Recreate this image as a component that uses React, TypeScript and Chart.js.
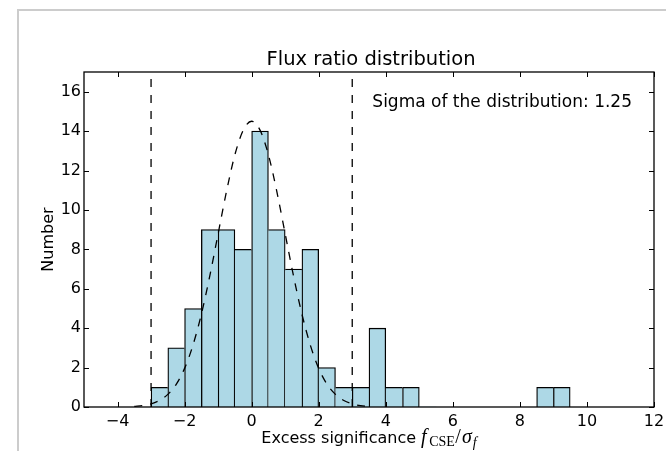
import React, { useEffect, useRef } from "react";
import { Chart, registerables } from "chart.js";

Chart.register(...registerables);

// Histogram bins (width 0.5), centres and counts
const binCenters = [
  -2.75, -2.25, -1.75, -1.25, -0.75, -0.25, 0.25, 0.75, 1.25, 1.75, 2.25, 2.75,
  3.25, 3.75, 4.25, 4.75, 5.25, 5.75, 6.25, 6.75, 7.25, 7.75, 8.25, 8.75, 9.25,
];
const counts = [1, 3, 5, 9, 9, 8, 14, 9, 7, 8, 2, 1, 1, 4, 1, 1, 0, 0, 0, 0, 0, 0, 0, 1, 1];

// Dashed fit curve
const fitX = [
  -3.5, -3.25, -3, -2.75, -2.5, -2.25, -2, -1.75, -1.5, -1.25, -1, -0.75, -0.5, -0.25, 0,
  0.25, 0.5, 0.75, 1, 1.25, 1.5, 1.75, 2, 2.25, 2.5, 2.75, 3, 3.25, 3.5,
];
const fitY = [
  0.03, 0.07, 0.16, 0.33, 0.64, 1.15, 1.96, 3.14, 4.71, 6.64, 8.79, 10.94, 12.8, 14.05, 14.5,
  14.05, 12.8, 10.94, 8.79, 6.64, 4.71, 3.14, 1.96, 1.15, 0.64, 0.33, 0.16, 0.07, 0.03,
];

// Vertical dashed cut lines
const cutLines = [-3, 3];

const xTicks = [-4, -2, 0, 2, 4, 6, 8, 10, 12];
const yTicks = [0, 2, 4, 6, 8, 10, 12, 14, 16];
const xRange = [-5, 12];
const yRange = [0, 17];

const titleText = "Flux ratio distribution";
const sigmaText = "Sigma of the distribution: 1.25";
const yLabel = "Number";
const xLabelPlain = "Excess significance ";

const FONT = '"DejaVu Sans", sans-serif';
const MATH = '"Liberation Serif", "DejaVu Serif", serif';
const EDGE = 1.3;

const decor = {
  id: "decor",
  beforeDraw(chart: any) {
    const ctx = chart.ctx;
    ctx.save();
    ctx.fillStyle = "#ffffff";
    ctx.fillRect(0, 0, chart.width, chart.height);
    ctx.fillStyle = "#cccccc";
    ctx.fillRect(17, 9, chart.width - 17, 2);
    ctx.fillRect(17, 9, 2, chart.height - 9);
    ctx.restore();
  },
  afterDraw(chart: any) {
    const { ctx, chartArea: a, scales } = chart;
    ctx.save();
    ctx.strokeStyle = "#000";
    ctx.lineWidth = EDGE;
    ctx.strokeRect(a.left, a.top, a.right - a.left, a.bottom - a.top);

    ctx.lineWidth = 1;
    ctx.beginPath();
    for (const v of xTicks) {
      const px = Math.round(scales.x.getPixelForValue(v)) + 0.5;
      ctx.moveTo(px, a.bottom);
      ctx.lineTo(px, a.bottom - 5);
      ctx.moveTo(px, a.top);
      ctx.lineTo(px, a.top + 5);
    }
    for (const v of yTicks) {
      const py = Math.round(scales.y.getPixelForValue(v)) + 0.5;
      ctx.moveTo(a.left, py);
      ctx.lineTo(a.left + 5, py);
      ctx.moveTo(a.right, py);
      ctx.lineTo(a.right - 5, py);
    }
    ctx.stroke();

    ctx.fillStyle = "#000";
    ctx.textBaseline = "alphabetic";

    // title
    ctx.font = `19.5px ${FONT}`;
    ctx.textAlign = "center";
    ctx.fillText(titleText, (a.left + a.right) / 2 + 2, 65);

    // annotation
    ctx.font = `17px ${FONT}`;
    ctx.textAlign = "right";
    ctx.fillText(sigmaText, a.right - 22, 106.5);

    // y label
    ctx.save();
    ctx.translate(53, (a.top + a.bottom) / 2);
    ctx.rotate(-Math.PI / 2);
    ctx.font = `16px ${FONT}`;
    ctx.textAlign = "center";
    ctx.fillText(yLabel, 0, 0);
    ctx.restore();

    // x label with math part
    const parts = [
      { t: xLabelPlain, f: `16px ${FONT}`, dy: 0, sp: 0 },
      { t: "f", f: `italic 20px ${MATH}`, dy: 0, sp: 2.5 },
      { t: "CSE", f: `14px ${MATH}`, dy: 3, sp: 0.5 },
      { t: "/", f: `20px ${MATH}`, dy: 0, sp: 1 },
      { t: "σ", f: `italic 20px ${MATH}`, dy: 0, sp: 1 },
      { t: "f", f: `italic 14px ${MATH}`, dy: 4, sp: 0 },
    ];
    let total = 0;
    const widths = parts.map((p) => {
      ctx.font = p.f;
      const w = ctx.measureText(p.t).width + p.sp;
      total += w;
      return w;
    });
    let x = (a.left + a.right) / 2 - total / 2;
    ctx.textAlign = "left";
    parts.forEach((p, i) => {
      ctx.font = p.f;
      ctx.fillText(p.t, x, 443 + p.dy);
      x += widths[i];
    });
    ctx.restore();
  },
};

export default function App() {
  const ref = useRef<HTMLCanvasElement | null>(null);

  useEffect(() => {
    if (!ref.current) return;
    const dashed = {
      borderColor: "#000",
      borderWidth: EDGE,
      borderDash: [8, 8],
      pointRadius: 0,
      fill: false,
    };
    const chart = new Chart(ref.current, {
      type: "bar",
      data: {
        datasets: [
          {
            type: "line",
            ...dashed,
            data: fitX.map((x, i) => ({ x, y: fitY[i] })),
            cubicInterpolationMode: "monotone",
            order: 1,
          },
          ...cutLines.map((c) => ({
            type: "line",
            ...dashed,
            data: [
              { x: c, y: yRange[0] },
              { x: c, y: yRange[1] },
            ],
            order: 1,
          })),
          {
            type: "bar",
            data: binCenters.map((x, i) => ({ x, y: counts[i] })),
            backgroundColor: "#add8e6",
            borderColor: "#000",
            borderWidth: (c: any) => {
              const i = c.dataIndex;
              if (i === undefined) return EDGE;
              const cur = counts[i];
              const prev = i > 0 ? counts[i - 1] : 0;
              const next = i < counts.length - 1 ? counts[i + 1] : 0;
              return {
                top: EDGE,
                bottom: 0,
                left: prev <= cur ? EDGE : 0,
                right: next < cur ? EDGE : 0,
              };
            },
            barPercentage: 1,
            categoryPercentage: 1,
            order: 2,
          },
        ] as any,
      },
      options: {
        animation: false,
        responsive: false,
        devicePixelRatio: 1,
        layout: { padding: { top: 72, right: 12, left: 0, bottom: 0 } },
        plugins: { legend: { display: false }, tooltip: { enabled: false }, title: { display: false } },
        scales: {
          x: {
            type: "linear",
            min: xRange[0],
            max: xRange[1],
            offset: false,
            grid: { display: false, drawTicks: false },
            border: { display: false },
            ticks: {
              color: "#000",
              font: { family: FONT, size: 16 },
              padding: 5,
              autoSkip: false,
              maxRotation: 0,
              callback: (v: any) => (v < 0 ? "\u2212" + Math.abs(v) : String(v)),
            },
            afterBuildTicks: (s: any) => {
              s.ticks = xTicks.map((v) => ({ value: v }));
            },
            afterFit: (s: any) => {
              s.height = 44;
              s.paddingLeft = 0;
              s.paddingRight = 0;
            },
          },
          y: {
            type: "linear",
            min: yRange[0],
            max: yRange[1],
            grid: { display: false, drawTicks: false },
            border: { display: false },
            ticks: {
              color: "#000",
              font: { family: FONT, size: 16 },
              padding: 3,
              autoSkip: false,
              callback: (v: any) => String(v),
            },
            afterBuildTicks: (s: any) => {
              s.ticks = yTicks.map((v) => ({ value: v }));
            },
            afterFit: (s: any) => {
              s.width = 84;
              s.paddingTop = 0;
              s.paddingBottom = 0;
            },
          },
        },
      } as any,
      plugins: [decor],
    });
    return () => chart.destroy();
  }, []);

  return (
    <div style={{ position: "absolute", left: 0, top: 0, width: 666, height: 451 }}>
      <canvas ref={ref} width={666} height={451} style={{ width: 666, height: 451, display: "block" }} />
    </div>
  );
}
